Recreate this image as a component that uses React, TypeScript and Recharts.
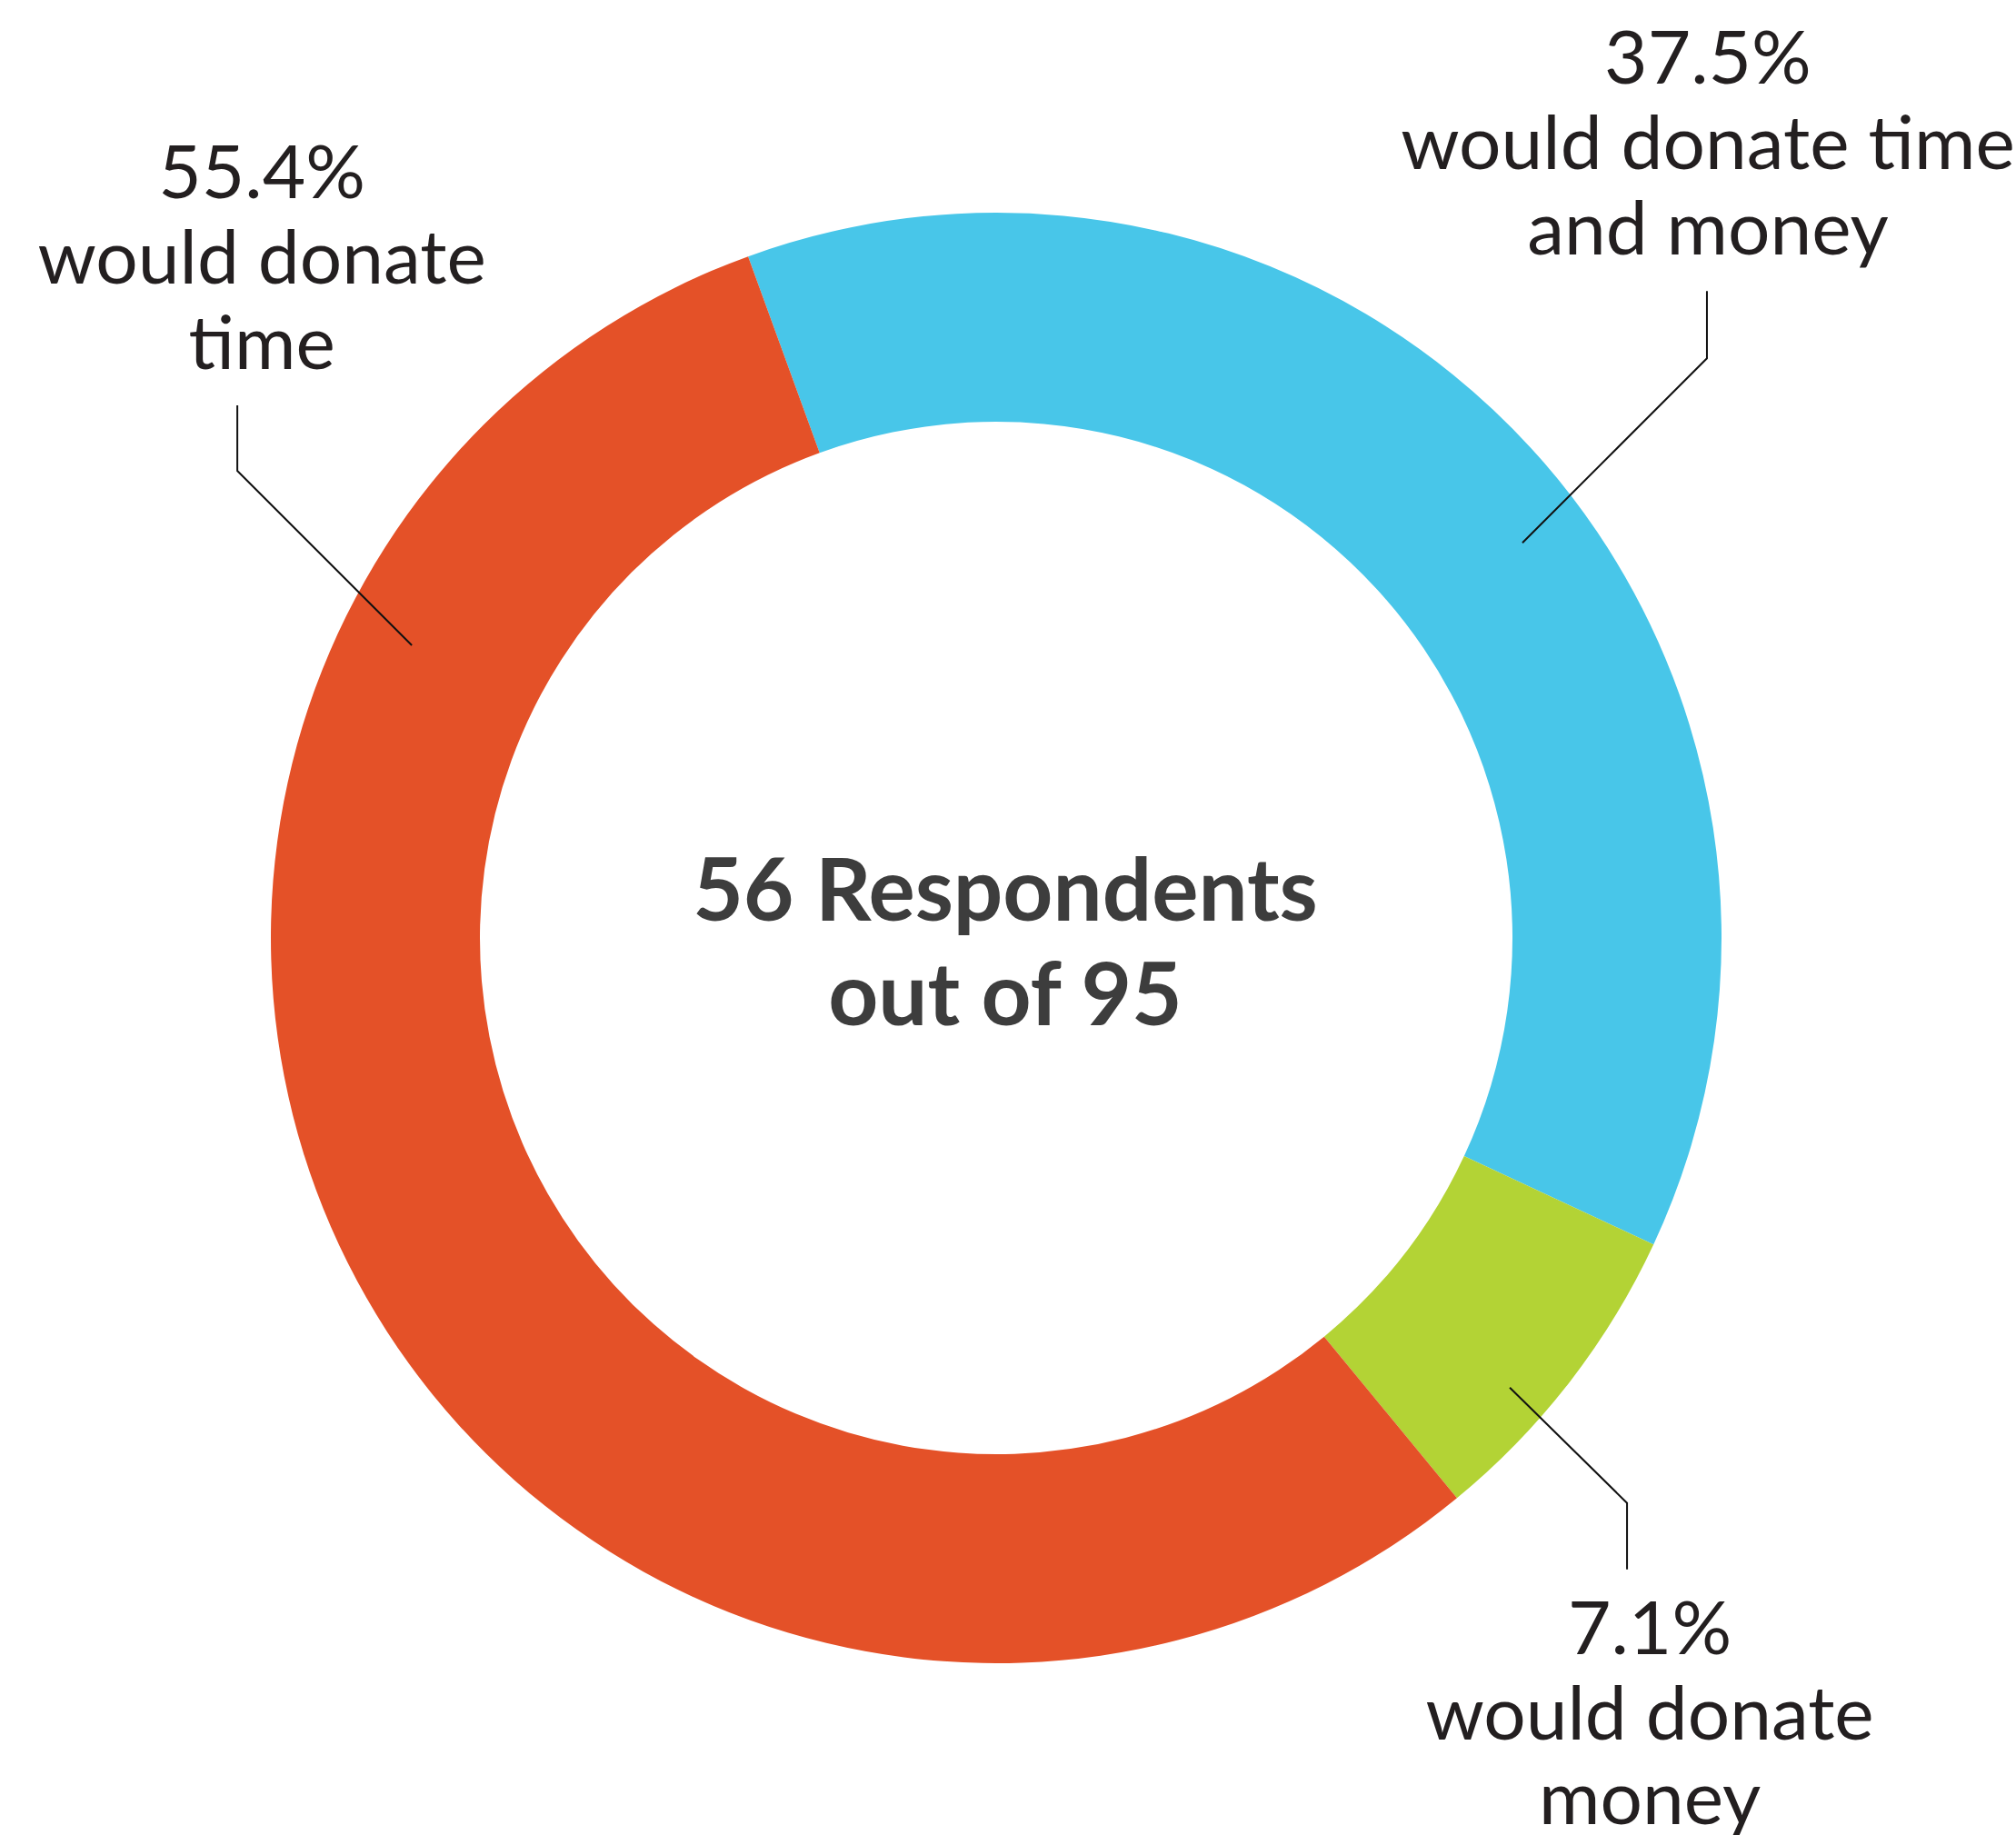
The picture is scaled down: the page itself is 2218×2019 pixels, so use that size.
// Donut chart: willingness to donate time / money among survey respondents.
import { PieChart, Pie, Cell } from 'recharts'

const categories = ['Time and money', 'Money', 'Time']
const shares = [37.5, 7.1, 55.4]
const captions = [
  ['would donate time', 'and money'],
  ['would donate', 'money'],
  ['would donate', 'time'],
]
const respondents = 56
const surveyed = 95

const COLORS = ['#48C6E9', '#B3D335', '#E45128']
const FONT = 'Lato, "Open Sans", sans-serif'

// leader line per slice: anchor angle/radius inside the ring, elbow offset, straight leg, text shift
const LEADERS = [
  { angle: 36.9, r: 724, ex: 203, ey: -203, leg: -74, tx: 1 },
  { angle: -41.2, r: 751, ex: 129, ey: 127, leg: 73, tx: 25 },
  { angle: 153.4, r: 719, ex: -192, ey: -192, leg: -72, tx: 27 },
]

const data = categories.map((name, i) => ({ name, value: shares[i] }))

const RAD = Math.PI / 180

function renderLabel(props: any) {
  const { cx, cy, index } = props
  const l = LEADERS[index]
  const x0 = cx + l.r * Math.cos(l.angle * RAD)
  const y0 = cy - l.r * Math.sin(l.angle * RAD)
  const x1 = x0 + l.ex
  const y1 = y0 + l.ey
  const y2 = y1 + l.leg
  const up = l.leg < 0
  const offsets = up ? [-228, -134, -40] : [93, 187, 280]
  const lines = [`${shares[index]}%`, ...captions[index]]
  return (
    <g key={`lbl-${index}`}>
      <polyline points={`${x0},${y0} ${x1},${y1} ${x1},${y2}`} fill="none" stroke="#111" strokeWidth={2} />
      {lines.map((t, k) => (
        <text key={k} x={x1 + l.tx} y={y2 + offsets[k]} textAnchor="middle"
              fontFamily={FONT} fontSize={82} fill="#231f20">
          {t}
        </text>
      ))}
      {index === 0 && (
        <g>
          <text x={cx + 10} y={1013} textAnchor="middle" fontFamily={FONT}
                fontSize={96} fontWeight={700} fill="#3d3d3d">
            {`${respondents} Respondents`}
          </text>
          <text x={cx + 10} y={1128} textAnchor="middle" fontFamily={FONT}
                fontSize={96} fontWeight={700} fill="#3d3d3d">
            {`out of ${surveyed}`}
          </text>
        </g>
      )}
    </g>
  )
}

export default function App() {
  return (
    <div style={{ position: 'absolute', left: 0, top: 0, width: 2218, height: 2019, background: '#fff' }}>
      <PieChart width={2218} height={2019} margin={{ top: 0, right: 0, bottom: 0, left: 0 }}>
        <Pie
          data={data}
          dataKey="value"
          nameKey="name"
          cx={1096}
          cy={1032}
          innerRadius={568}
          outerRadius={798}
          startAngle={110}
          endAngle={-250}
          stroke="none"
          label={renderLabel}
          labelLine={false}
          isAnimationActive={false}
        >
          {data.map((d, i) => (
            <Cell key={d.name} fill={COLORS[i]} />
          ))}
        </Pie>
      </PieChart>
    </div>
  )
}
